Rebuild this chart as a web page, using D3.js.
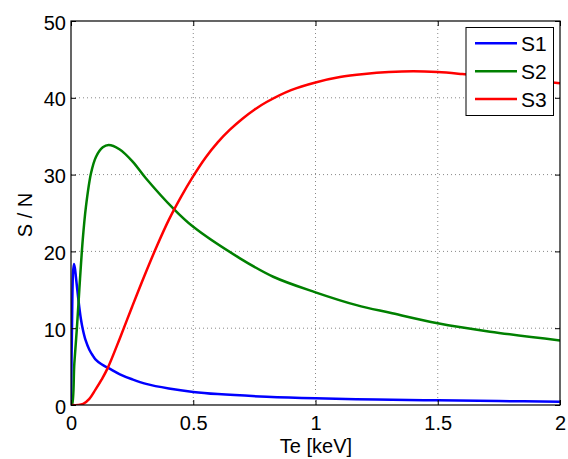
<!DOCTYPE html>
<html><head><meta charset="utf-8">
<script src="https://cdn.jsdelivr.net/npm/d3@7"></script>
<style>
body{margin:0;background:#fff;}
text{font-family:"Liberation Sans",Arial,Helvetica,sans-serif;}
</style></head>
<body><svg id="c" width="568" height="459"></svg>
<script>
const xTicks = [0, 0.5, 1, 1.5, 2];
const xTickLabels = ["0", "0.5", "1", "1.5", "2"];
const yTicks = [0, 10, 20, 30, 40, 50];
const yTickLabels = ["0", "10", "20", "30", "40", "50"];
const seriesNames = ["S1", "S2", "S3"];
const seriesColors = ["#0000ff", "#008000", "#ff0000"];

const s1X = [0, 0.004, 0.008, 0.012, 0.016, 0.02, 0.031, 0.04, 0.048, 0.06, 0.075, 0.09, 0.1, 0.125, 0.154, 0.2, 0.25, 0.307, 0.4, 0.5, 0.6, 0.8, 1.0, 1.25, 1.5, 1.75, 2.0];
const s1Y = [0, 10, 17, 18.35, 17.8, 16.7, 13.5, 11.3, 9.9, 8.4, 7.2, 6.4, 5.95, 5.3, 4.8, 4.0, 3.35, 2.75, 2.15, 1.7, 1.42, 1.08, 0.87, 0.72, 0.61, 0.51, 0.43];

const s2X = [0, 0.004, 0.0136, 0.0245, 0.034, 0.048, 0.061, 0.082, 0.102, 0.13, 0.154, 0.198, 0.252, 0.307, 0.418, 0.5, 0.691, 0.827, 1.0, 1.168, 1.305, 1.5, 1.714, 2.0];
const s2Y = [0, 0, 5.4, 10.2, 15.0, 21.5, 25.8, 30.2, 32.3, 33.55, 33.85, 33.3, 31.7, 29.5, 25.6, 23.2, 19.1, 16.7, 14.67, 13.0, 12.0, 10.64, 9.55, 8.4];

const s3X = [0, 0.03, 0.05, 0.075, 0.1, 0.125, 0.15, 0.2, 0.25, 0.3, 0.35, 0.4, 0.45, 0.5, 0.55, 0.6, 0.65, 0.7, 0.75, 0.8, 0.9, 1.0, 1.1, 1.2, 1.3, 1.4, 1.5, 1.6, 1.7, 1.8, 1.9, 2.0];
const s3Y = [0, 0, 0.15, 0.8, 2.0, 3.3, 4.8, 8.7, 12.8, 16.8, 20.6, 24.1, 27.1, 29.8, 32.2, 34.2, 35.85, 37.25, 38.45, 39.45, 41.0, 42.0, 42.7, 43.1, 43.35, 43.45, 43.35, 43.1, 42.8, 42.5, 42.2, 41.9];

const seriesX = [s1X, s2X, s3X];
const seriesY = [s1Y, s2Y, s3Y];

const W = 568, H = 459;
const L = 71, R = 560, T = 21, B = 405;
const svg = d3.select("#c");
const x = d3.scaleLinear().domain([0, 2]).range([L, R]);
const y = d3.scaleLinear().domain([0, 50]).range([B, T]);
const FS = 20;

svg.append("rect").attr("x",0).attr("y",0).attr("width",W).attr("height",H).attr("fill","#fff");

// grid
const grid = svg.append("g");
grid.selectAll("line.gx").data(xTicks.slice(1, -1)).enter().append("line")
  .attr("x1", d => x(d)).attr("x2", d => x(d)).attr("y1", T).attr("y2", B)
  .attr("stroke", "#888").attr("stroke-width", 1).attr("stroke-dasharray", "1,3");
grid.selectAll("line.gy").data(yTicks.slice(1, -1)).enter().append("line")
  .attr("y1", d => y(d)).attr("y2", d => y(d)).attr("x1", L).attr("x2", R)
  .attr("stroke", "#888").attr("stroke-width", 1).attr("stroke-dasharray", "1,3");

// lines
svg.append("clipPath").attr("id","clp").append("rect")
  .attr("x", L).attr("y", T).attr("width", R - L).attr("height", B - T);
const line = d3.line().x(d => x(d[0])).y(d => y(d[1])).curve(d3.curveCatmullRom.alpha(0.5));
seriesNames.forEach((n, i) => {
  const pts = seriesX[i].map((v, j) => [v, seriesY[i][j]]);
  svg.append("path").datum(pts).attr("d", line).attr("fill","none")
    .attr("stroke", seriesColors[i]).attr("stroke-width", 2.5)
    .attr("stroke-linejoin","round").attr("clip-path","url(#clp)");
});

// axes
const gB = svg.append("g").attr("transform", `translate(0,${B})`)
  .call(d3.axisBottom(x).tickValues(xTicks).tickFormat((d,i)=>xTickLabels[i]).tickSizeInner(-5).tickSizeOuter(0).tickPadding(11));
const gL = svg.append("g").attr("transform", `translate(${L},0)`)
  .call(d3.axisLeft(y).tickValues(yTicks).tickFormat((d,i)=>yTickLabels[i]).tickSizeInner(-5).tickSizeOuter(0).tickPadding(5));
const gT = svg.append("g").attr("transform", `translate(0,${T})`)
  .call(d3.axisTop(x).tickValues(xTicks).tickFormat("").tickSizeInner(-5).tickSizeOuter(0));
const gR = svg.append("g").attr("transform", `translate(${R},0)`)
  .call(d3.axisRight(y).tickValues(yTicks).tickFormat("").tickSizeInner(-5).tickSizeOuter(0));
[gB, gL, gT, gR].forEach(g => {
  g.select(".domain").remove();
  g.selectAll("line").attr("stroke", "#000");
  g.selectAll("text").attr("font-size", FS).attr("fill","#000")
    .style("font-family", '"Liberation Sans",Arial,sans-serif');
});
gL.selectAll("text").attr("dy", "0.4em");
svg.append("rect").attr("x", L).attr("y", T).attr("width", R - L).attr("height", B - T)
  .attr("fill","none").attr("stroke","#000").attr("stroke-width",1.2);

// axis titles
svg.append("text").attr("x", 316).attr("y", 453).attr("text-anchor","middle")
  .attr("font-size", FS).text("Te [keV]");
svg.append("text").attr("transform", "translate(31.5,215) rotate(-90)").attr("text-anchor","middle")
  .attr("font-size", FS).text("S / N");

// legend
const lg = svg.append("g");
lg.append("rect").attr("x", 466).attr("y", 27.5).attr("width", 87.5).attr("height", 88)
  .attr("fill","#fff").attr("stroke","#000").attr("stroke-width",1);
seriesNames.forEach((n, i) => {
  const cy = 43.3 + i * 27.9;
  lg.append("line").attr("x1", 475).attr("x2", 517).attr("y1", cy).attr("y2", cy)
    .attr("stroke", seriesColors[i]).attr("stroke-width", 2.5);
  lg.append("text").attr("x", 521).attr("y", cy + 7.8).attr("font-size", 21).text(n);
});
</script></body></html>
